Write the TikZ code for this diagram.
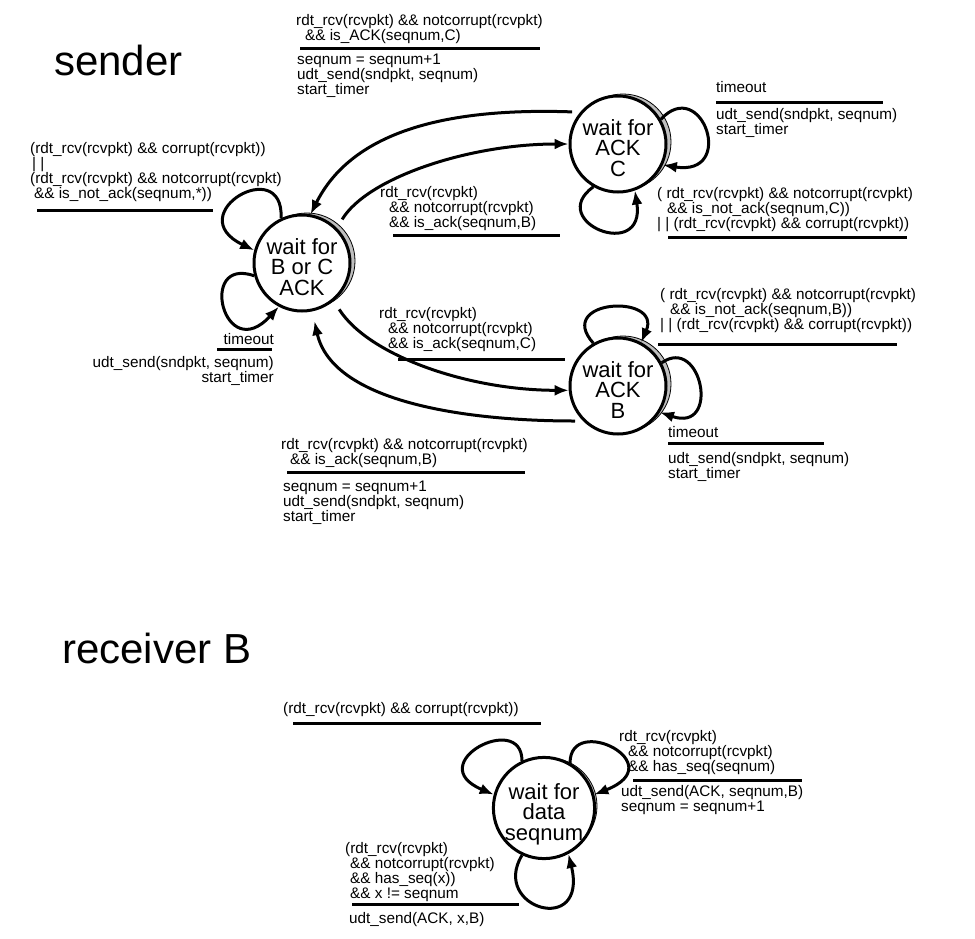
\documentclass[tikz,border=0pt]{standalone}
\usepackage{fontspec}
\setmainfont{Liberation Sans}
\usetikzlibrary{arrows.meta}

\begin{document}
\begin{tikzpicture}[
      x=1pt, y=-1pt,
      >={Latex[length=14pt,width=11pt]},
      fsm/.style={circle,draw,line width=3pt,fill=white,minimum size=96pt,inner sep=0pt,align=center,
        text height=64pt,text depth=0pt,font=\fontsize{22}{20.5}\selectfont},
      halo/.style={circle,draw,line width=.8pt,fill=black!25,minimum size=96pt,inner sep=0pt},
      guard/.style={anchor=base west,inner sep=0pt,align=left,font=\fontsize{15.3}{15}\selectfont},
      bar/.style={line width=3pt},
      transition/.style={->,line width=3pt},
      title/.style={anchor=base west,inner sep=0pt,font=\fontsize{42}{42}\selectfont}
      ]
      \useasboundingbox (0,0) rectangle (975,938);
      % titles
      \node [title] (sender) at (54,75) {sender};
      \node [title] (receiver) at (62,663) {receiver B};
      % states
      % wait for B or C
      \node [halo] (bc shadow) at (307,261) {};
      \node [fsm] (bc) at (302,263) {wait for\\B or C\\ACK};
      % wait for C
      \node [halo] (ackc shadow) at (623,142) {};
      \node [fsm] (ackc) at (618,144) {wait for\\ACK\\C};
      % wait for B
      \node [halo] (ackb shadow) at (623,384) {};
      \node [fsm] (ackb) at (618,386) {wait for\\ACK\\B};
      % wait for data
      \node [halo] (wdata shadow) at (549,806) {};
      \node [fsm] (wdata) at (544,808) {wait for\\data\\seqnum};
      % edges
      % C - B or C
      \draw [transition,shorten <=8pt] (ackc.140) .. controls +(-140,-5) and +(40,-80) .. (bc.80);
      % B or C - C
      \draw [transition,shorten <=10pt] (bc.45) .. controls +(30,-50) and +(-100,0) .. (ackc.180);
      % B or C - B
      \draw [transition,shorten <=10pt] (bc.-50) .. controls +(35,55) and +(-100,0) .. (ackb.185);
      % B - B or C
      \draw [transition,shorten <=8pt,shorten >=10pt] (ackb.225) .. controls +(-120,0) and +(20,90) .. (bc.-78);
      % self loops
      \draw [transition] (bc.115) .. controls +(3,-65) and +(-75,-36) .. (bc.165);
      \draw [transition] (bc.195) .. controls +(-57,-20) and +(-55,60) .. (bc.242);
      \draw [transition] (ackc.30) .. controls +(41,-44) and +(74,12) .. (ackc.-25);
      \draw [transition] (ackc.240) .. controls +(-48,35) and +(11,72) .. (ackc.-70);
      \draw [transition] (ackb.120) .. controls +(-39,-44) and +(21,-49) .. (ackb.62);
      \draw [transition] (ackb.28) .. controls +(40,-28) and +(61,21) .. (ackb.-32);
      \draw [transition] (wdata.115) .. controls +(0,-50) and +(-73,-31) .. (wdata.165);
      \draw [transition] (wdata.60) .. controls +(0,-50) and +(79,-31) .. (wdata.15);
      \draw [transition] (wdata.245) .. controls +(-32,53) and +(20,83) .. (wdata.-62);
      % labels (placed at the baseline of the last line)
      % C - B or C
      \node [guard] (g1) at (296,40) {rdt\_rcv(rcvpkt) \&\& notcorrupt(rcvpkt)\\\hspace*{9pt}\&\& is\_ACK(seqnum,C)};
      \draw [bar] (300,48) -- (540,48);
      \node [guard] (a1) at (297,94) {seqnum = seqnum+1\\udt\_send(sndpkt, seqnum)\\start\_timer};
      % B or C loop
      \node [guard] (g2) at (30,198) {(rdt\_rcv(rcvpkt) \&\& corrupt(rcvpkt))\\\hspace*{2pt}| |\\(rdt\_rcv(rcvpkt) \&\& notcorrupt(rcvpkt)\\\hspace*{4pt}\&\& is\_not\_ack(seqnum,*))};
      \draw [bar] (37,210) -- (213,210);
      % B or C - C
      \node [guard] (g3) at (380,227) {rdt\_rcv(rcvpkt)\\\hspace*{9pt}\&\& notcorrupt(rcvpkt)\\\hspace*{9pt}\&\& is\_ack(seqnum,B)};
      \draw [bar] (393,235) -- (560,235);
      % C timeout
      \node [guard] (g4) at (716,92) {timeout};
      \draw [bar] (716,102) -- (883,102);
      \node [guard] (a4) at (716,134) {udt\_send(sndpkt, seqnum)\\start\_timer};
      % C loop
      \node [guard] (g5) at (657,228) {( rdt\_rcv(rcvpkt) \&\& notcorrupt(rcvpkt)\\\hspace*{10pt}\&\& is\_not\_ack(seqnum,C))\\| | (rdt\_rcv(rcvpkt) \&\& corrupt(rcvpkt))};
      \draw [bar] (668,237) -- (907,237);
      % B loop
      \node [guard] (g6) at (660,329) {( rdt\_rcv(rcvpkt) \&\& notcorrupt(rcvpkt)\\\hspace*{10pt}\&\& is\_not\_ack(seqnum,B))\\| | (rdt\_rcv(rcvpkt) \&\& corrupt(rcvpkt))};
      \draw [bar] (658,344) -- (897,344);
      % B timeout
      \node [guard] (g7) at (668,437) {timeout};
      \draw [bar] (668,443) -- (824,443);
      \node [guard] (a7) at (668,478) {udt\_send(sndpkt, seqnum)\\start\_timer};
      % B or C timeout
      \node [guard,anchor=base east] (g8) at (274,344) {timeout};
      \draw [bar] (217,349) -- (272,349);
      \node [guard,anchor=base east,align=right] (a8) at (274,382) {udt\_send(sndpkt, seqnum)\\start\_timer};
      % B or C - B
      \node [guard] (g9) at (379,348) {rdt\_rcv(rcvpkt)\\\hspace*{9pt}\&\& notcorrupt(rcvpkt)\\\hspace*{9pt}\&\& is\_ack(seqnum,C)};
      \draw [bar] (398,359) -- (565,359);
      % B - B or C
      \node [guard] (g10) at (281,464) {rdt\_rcv(rcvpkt) \&\& notcorrupt(rcvpkt)\\\hspace*{9pt}\&\& is\_ack(seqnum,B)};
      \draw [bar] (287,472) -- (525,472);
      \node [guard] (a10) at (283,521) {seqnum = seqnum+1\\udt\_send(sndpkt, seqnum)\\start\_timer};
      % receiver corrupt
      \node [guard] (r1) at (283,713) {(rdt\_rcv(rcvpkt) \&\& corrupt(rcvpkt))};
      \draw [bar] (293,723) -- (541,723);
      % receiver in order
      \node [guard] (r2) at (619,771) {rdt\_rcv(rcvpkt)\\\hspace*{9pt}\&\& notcorrupt(rcvpkt)\\\hspace*{9pt}\&\& has\_seq(seqnum)};
      \draw [bar] (633,780) -- (802,780);
      \node [guard] (ra2) at (621,811) {udt\_send(ACK, seqnum,B)\\seqnum = seqnum+1};
      % receiver out of order
      \node [guard] (r3) at (345,898) {(rdt\_rcv(rcvpkt)\\\hspace*{5pt}\&\& notcorrupt(rcvpkt)\\\hspace*{5pt}\&\& has\_seq(x))\\\hspace*{5pt}\&\& x != seqnum};
      \draw [bar] (352,904) -- (519,904);
      \node [guard] (ra3) at (349,923) {udt\_send(ACK, x,B)};
    \end{tikzpicture}
\end{document}
